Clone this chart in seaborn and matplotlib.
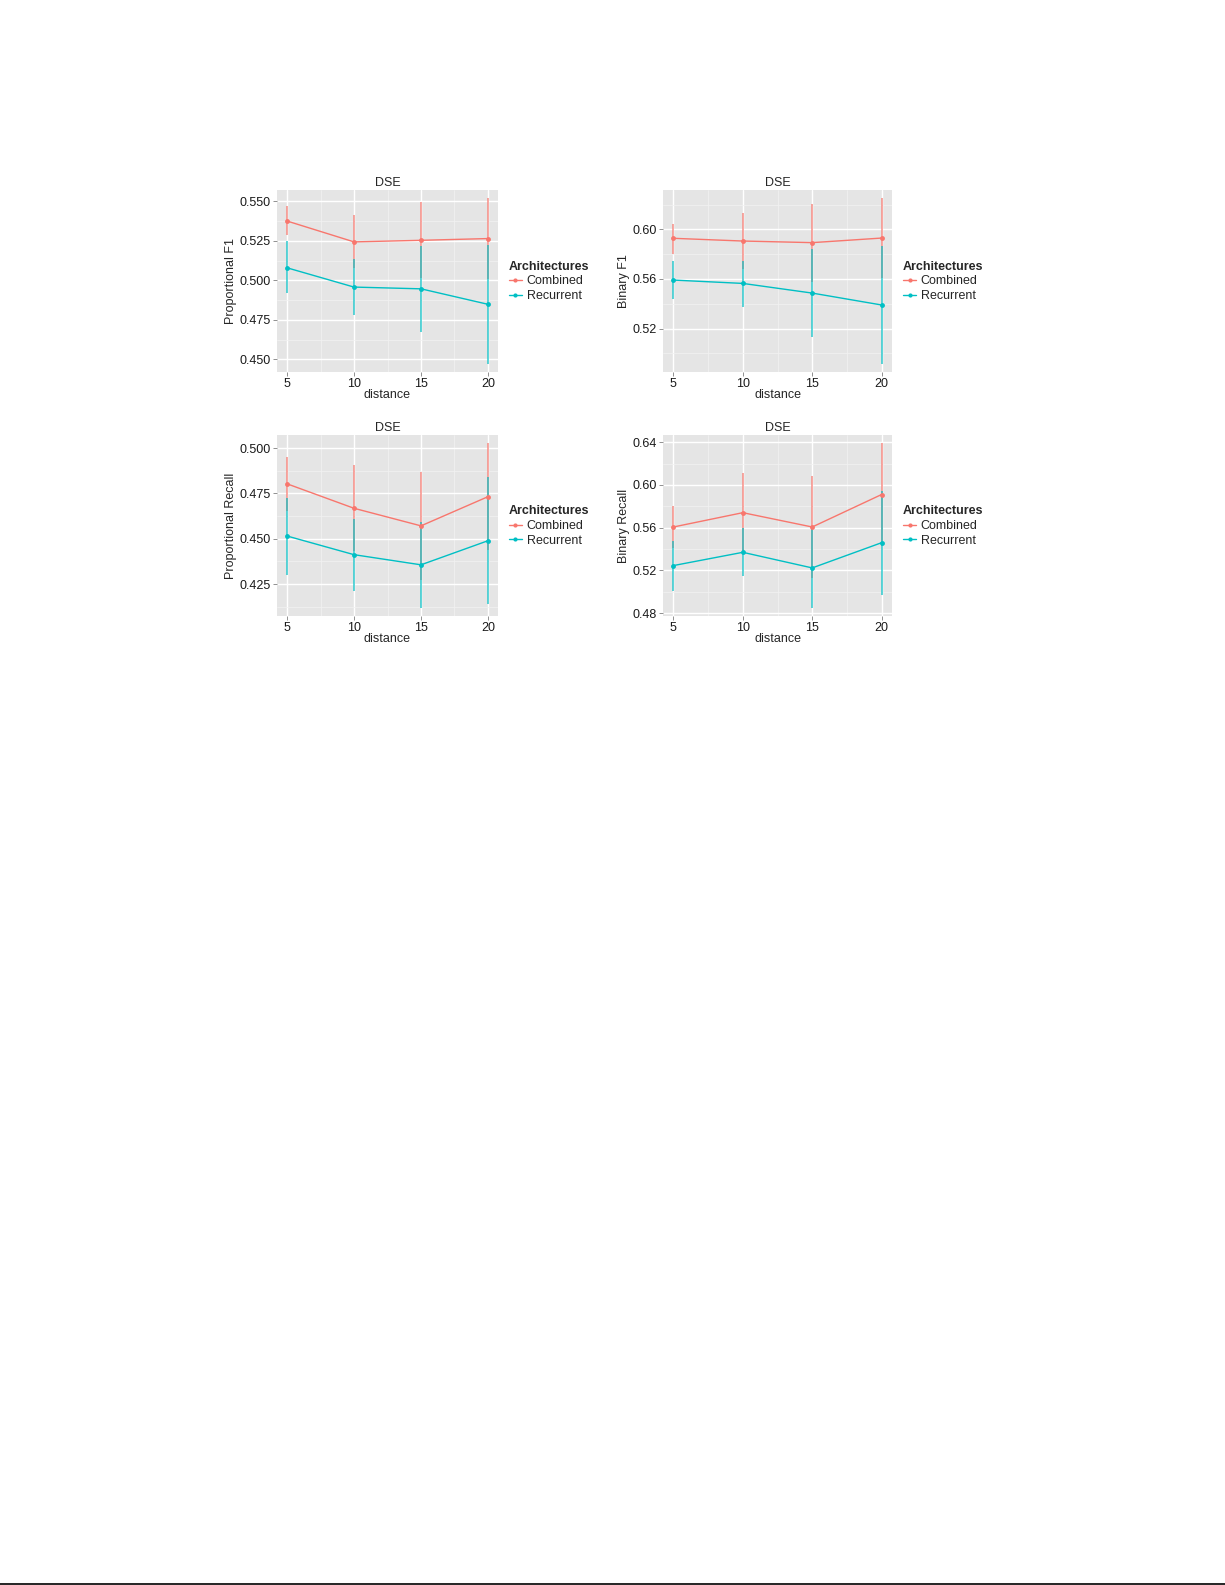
import numpy as np
import pandas as pd
import matplotlib
matplotlib.use("Agg")
import matplotlib.pyplot as plt
import seaborn as sns
from matplotlib.lines import Line2D
from matplotlib.ticker import FixedLocator, FormatStrFormatter

# ==== DATA ====
distance = [5, 10, 15, 20]
architectures = ["Combined", "Recurrent"]

# Proportional F1
pf1_comb = [0.5376, 0.5244, 0.5254, 0.5265]
pf1_comb_lo = [0.5286, 0.5080, 0.5013, 0.5010]
pf1_comb_hi = [0.5470, 0.5416, 0.5496, 0.5520]
pf1_rec = [0.5080, 0.4958, 0.4947, 0.4849]
pf1_rec_lo = [0.4922, 0.4782, 0.4676, 0.4473]
pf1_rec_hi = [0.5248, 0.5134, 0.5218, 0.5223]

# Binary F1
bf1_comb = [0.5928, 0.5906, 0.5893, 0.5930]
bf1_comb_lo = [0.5805, 0.5679, 0.5577, 0.5609]
bf1_comb_hi = [0.6045, 0.6134, 0.6206, 0.6251]
bf1_rec = [0.5591, 0.5564, 0.5486, 0.5390]
bf1_rec_lo = [0.5436, 0.5377, 0.5128, 0.4916]
bf1_rec_hi = [0.5746, 0.5746, 0.5839, 0.5866]

# Proportional Recall
prc_comb = [0.4803, 0.4668, 0.4571, 0.4732]
prc_comb_lo = [0.4653, 0.4430, 0.4275, 0.4437]
prc_comb_hi = [0.4951, 0.4909, 0.4867, 0.5027]
prc_rec = [0.4515, 0.4412, 0.4356, 0.4489]
prc_rec_lo = [0.4301, 0.4214, 0.4119, 0.4142]
prc_rec_hi = [0.4726, 0.4608, 0.4593, 0.4839]

# Binary Recall
brc_comb = [0.5606, 0.5740, 0.5606, 0.5910]
brc_comb_lo = [0.5413, 0.5370, 0.5133, 0.5430]
brc_comb_hi = [0.5799, 0.6110, 0.6079, 0.6390]
brc_rec = [0.5245, 0.5369, 0.5223, 0.5459]
brc_rec_lo = [0.5005, 0.5145, 0.4850, 0.4974]
brc_rec_hi = [0.5475, 0.5593, 0.5606, 0.5947]

panels = [
    ("Proportional F1", pf1_comb, pf1_comb_lo, pf1_comb_hi, pf1_rec, pf1_rec_lo, pf1_rec_hi,
     [0.450, 0.475, 0.500, 0.525, 0.550], "%.3f"),
    ("Binary F1", bf1_comb, bf1_comb_lo, bf1_comb_hi, bf1_rec, bf1_rec_lo, bf1_rec_hi,
     [0.52, 0.56, 0.60], "%.2f"),
    ("Proportional Recall", prc_comb, prc_comb_lo, prc_comb_hi, prc_rec, prc_rec_lo, prc_rec_hi,
     [0.425, 0.450, 0.475, 0.500], "%.3f"),
    ("Binary Recall", brc_comb, brc_comb_lo, brc_comb_hi, brc_rec, brc_rec_lo, brc_rec_hi,
     [0.48, 0.52, 0.56, 0.60, 0.64], "%.2f"),
]

palette = {"Combined": "#F8766D", "Recurrent": "#00BFC4"}

sns.set_theme(style="white")
plt.rcParams["font.family"] = ["Liberation Sans", "DejaVu Sans"]

W, H = 1225, 1585
fig = plt.figure(figsize=(W / 100, H / 100), dpi=100)

# axes rectangles in pixels: left, top, right, bottom
rects = [(277, 190, 498, 372), (663, 190, 892, 372),
         (277, 435, 498, 616), (663, 435, 892, 616)]
fs = 9

for (label, c, clo, chi, r, rlo, rhi, yticks, fmt), (x0, y0, x1, y1) in zip(panels, rects):
    ax = fig.add_axes([x0 / W, 1 - y1 / H, (x1 - x0) / W, (y1 - y0) / H])
    df = pd.DataFrame({
        "distance": distance * 2,
        "value": c + r,
        "lo": clo + rlo,
        "hi": chi + rhi,
        "Architectures": ["Combined"] * 4 + ["Recurrent"] * 4,
    })
    ax.set_facecolor("#E5E5E5")
    for arch in architectures:
        sub = df[df["Architectures"] == arch]
        ax.vlines(sub["distance"], sub["lo"], sub["hi"], color=palette[arch],
                  lw=1.2, alpha=0.75, zorder=3)
    sns.lineplot(data=df, x="distance", y="value", hue="Architectures",
                 palette=palette, marker="o", markersize=3.5, markeredgewidth=0,
                 linewidth=1.0, ax=ax, zorder=4)

    lo_all = df["lo"].min()
    hi_all = df["hi"].max()
    pad = 0.05 * (hi_all - lo_all)
    ax.set_ylim(lo_all - pad, hi_all + pad)
    ax.set_xlim(5 - 0.05 * 15, 20 + 0.05 * 15)

    ax.set_xticks(distance)
    ax.xaxis.set_minor_locator(FixedLocator([7.5, 12.5, 17.5]))
    ax.set_yticks(yticks)
    step = yticks[1] - yticks[0]
    ax.yaxis.set_minor_locator(FixedLocator([yticks[0] - step / 2] + [t + step / 2 for t in yticks]))
    ax.yaxis.set_major_formatter(FormatStrFormatter(fmt))

    ax.grid(which="major", color="white", lw=1.0)
    ax.grid(which="minor", color="#F2F2F2", lw=0.5)
    ax.set_axisbelow(True)
    for s in ax.spines.values():
        s.set_visible(False)
    ax.tick_params(axis="both", which="major", length=3, width=0.6, color="#7F7F7F",
                   labelsize=fs, labelcolor="#1A1A1A", pad=1.5, bottom=True, left=True)
    ax.tick_params(axis="both", which="minor", length=0)

    ax.set_title("DSE", fontsize=fs, pad=3)
    ax.set_xlabel("distance", fontsize=fs, labelpad=-1)
    ax.set_ylabel(label, fontsize=fs, labelpad=2)

    leg = ax.legend(title="Architectures", loc="upper left", bbox_to_anchor=(1.025, 0.64),
                    frameon=False, borderaxespad=0, fontsize=fs, title_fontsize=fs,
                    handlelength=1.1, handletextpad=0.35, labelspacing=0.22)
    leg.get_title().set_fontweight("bold")
    leg._legend_box.align = "left"
    for h in leg.legend_handles:
        h.set_linewidth(1.0)
        h.set_markersize(3)

# page rule at the bottom edge
fig.add_artist(Line2D([0, 1], [1.5 / H, 1.5 / H], color="black", lw=1.2,
                      transform=fig.transFigure))

fig.savefig("out.png", dpi=100)
